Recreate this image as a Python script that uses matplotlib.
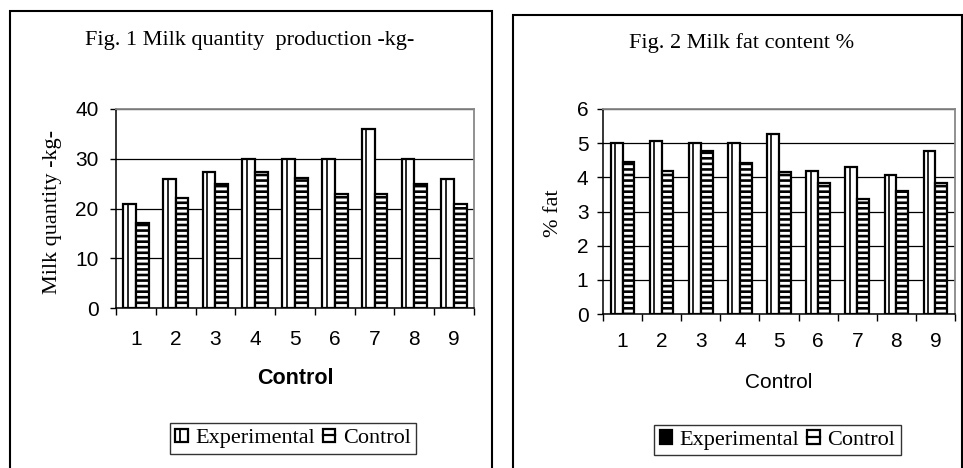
import matplotlib
matplotlib.use("Agg")
import matplotlib.pyplot as plt
import numpy as np
from matplotlib.patches import Rectangle, Patch
from matplotlib.lines import Line2D
from matplotlib.legend_handler import HandlerBase

# ---------------- data ----------------
categories = ["1", "2", "3", "4", "5", "6", "7", "8", "9"]
milk_experimental = [21, 26, 27.3, 30, 30, 30, 36, 30, 26]
milk_control = [17, 22.2, 25, 27.3, 26.1, 23, 23, 25, 21]
fat_experimental = [5.0, 5.05, 5.0, 5.0, 5.27, 4.2, 4.3, 4.08, 4.78]
fat_control = [4.46, 4.2, 4.78, 4.41, 4.15, 3.82, 3.37, 3.59, 3.82]
series_names = ["Experimental", "Control"]

SERIF = ["Liberation Serif", "DejaVu Serif"]
SANS = ["Liberation Sans", "DejaVu Sans"]

plt.rcParams["hatch.linewidth"] = 1.9

W, H = 963, 468
fig = plt.figure(figsize=(W / 100, H / 100), dpi=100)


def fx(px):
    return px / W


def fy(py):
    return 1 - py / H


class SquareHandler(HandlerBase):
    def __init__(self, kind):
        super().__init__()
        self.kind = kind

    def create_artists(self, legend, orig_handle, xdescent, ydescent,
                       width, height, fontsize, trans):
        x0, y0 = -xdescent, -ydescent
        face = "black" if self.kind == "solid" else "white"
        r = Rectangle((x0, y0), width, height, facecolor=face,
                      edgecolor="black", lw=1.6, transform=trans)
        arts = [r]
        if self.kind == "vline":
            arts.append(Line2D([x0 + width * 0.38] * 2, [y0, y0 + height],
                               color="black", lw=1.3, transform=trans))
        elif self.kind == "hline":
            arts.append(Line2D([x0, x0 + width], [y0 + height / 2] * 2,
                               color="black", lw=1.6, transform=trans))
        return arts


def make_panel(rect, exp, ctl, ymax, ystep, width, ylabel, xlabel, xbold,
               title, title_pos, ylabel_pos, xlabel_pos, legend_pos, exp_kind,
               ypad, xpad):
    ax = fig.add_axes(rect)
    x = np.arange(len(categories))
    ax.bar(x, exp, width=-width, align="edge", facecolor="white",
           edgecolor="black", lw=1.6, zorder=3)
    ax.bar(x - width, exp, width=width * 0.36, align="edge", fill=False,
           edgecolor="black", lw=1.2, zorder=4)
    ax.bar(x, ctl, width=width, align="edge", facecolor="white",
           edgecolor="black", lw=1.6, hatch="---", zorder=3)
    ax.set_xlim(-0.5, len(categories) - 0.5)
    ax.set_ylim(0, ymax)
    ax.set_yticks(np.arange(0, ymax + 0.001, ystep))
    ax.set_xticks(x)
    ax.set_xticklabels(categories, fontfamily=SANS, fontsize=15)
    ax.set_xticks(np.arange(-0.5, len(categories)), minor=True)
    ax.tick_params(axis="x", which="major", length=0, pad=xpad)
    ax.tick_params(axis="x", which="minor", length=5, width=1, direction="out")
    ax.tick_params(axis="y", length=4, width=1, pad=ypad, direction="out")
    for lab in ax.get_yticklabels():
        lab.set_fontfamily(SANS)
        lab.set_fontsize(15)
    ax.yaxis.grid(True, color="black", lw=0.9, zorder=0)
    ax.set_axisbelow(True)
    for s in ["left", "bottom"]:
        ax.spines[s].set_color("black")
        ax.spines[s].set_linewidth(1.1)
    for s in ["top", "right"]:
        ax.spines[s].set_color("#888888")
        ax.spines[s].set_linewidth(1.3)

    fig.text(fx(title_pos[0]), fy(title_pos[1]), title, ha="center",
             va="center", fontfamily=SERIF, fontsize=16)
    fig.text(fx(ylabel_pos[0]), fy(ylabel_pos[1]), ylabel, ha="center",
             va="center", rotation=90, fontfamily=SERIF, fontsize=16)
    fig.text(fx(xlabel_pos[0]), fy(xlabel_pos[1]), xlabel, ha="center",
             va="center", fontfamily=SANS, fontsize=15.5 if xbold else 15,
             fontweight="bold" if xbold else "normal")

    h1 = Patch(facecolor="white", edgecolor="black")
    h2 = Patch(facecolor="white", edgecolor="black")
    leg = fig.legend([h1, h2], series_names, loc="center",
                     bbox_to_anchor=(fx(legend_pos[0]), fy(legend_pos[1])),
                     ncol=2, frameon=True, fancybox=False, shadow=False,
                     prop={"family": SERIF, "size": 16},
                     handlelength=0.55, handleheight=0.55, handletextpad=0.35,
                     columnspacing=0.35, borderpad=0.25, borderaxespad=0,
                     handler_map={h1: SquareHandler(exp_kind),
                                  h2: SquareHandler("hline")})
    leg.get_frame().set_edgecolor("black")
    leg.get_frame().set_linewidth(1.0)
    return ax


# panel boxes
fig.add_artist(Rectangle((fx(10), -0.05), fx(492) - fx(10), fy(11) + 0.05,
                         transform=fig.transFigure, fill=False,
                         edgecolor="black", lw=1.5))
fig.add_artist(Rectangle((fx(513), -0.05), fx(962) - fx(513), fy(15) + 0.05,
                         transform=fig.transFigure, fill=False,
                         edgecolor="black", lw=1.5))

make_panel([fx(116), fy(308), fx(474) - fx(116), fy(109) - fy(308)],
           milk_experimental, milk_control, 40, 10, 0.32,
           "Milk quantity -kg-", "Control", True,
           "Fig. 1 Milk quantity  production -kg-", (250, 40), (53, 212),
           (295, 378), (293, 438.5), "vline", 8.5, 15.5)

make_panel([fx(603), fy(314), fx(955) - fx(603), fy(109) - fy(314)],
           fat_experimental, fat_control, 6, 1, 0.30,
           "% fat", "Control", False,
           "Fig. 2 Milk fat content %", (742, 43), (553, 213),
           (779, 383), (777.5, 440), "solid", 6.5, 13)

fig.savefig("out.png", dpi=100)
